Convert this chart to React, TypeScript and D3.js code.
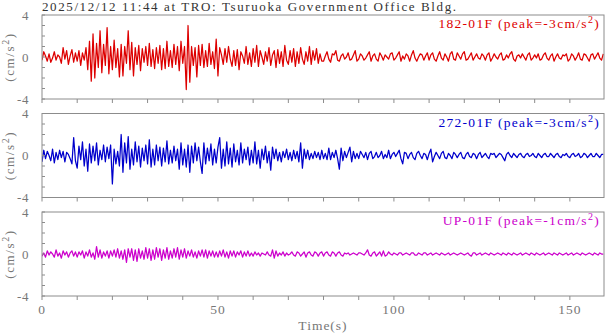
import React from 'react';
import * as d3 from 'd3';

// sample spacing of the traces (s)
const SAMPLE_DT = 0.5;

const title = '2025/12/12 11:44 at TRO: Tsuruoka Government Office Bldg.';
const channelNames = ['182-01F', '272-01F', 'UP-01F'];
const channelPeaks = [-3, -3, -1];
const channelColors = ['#dd0000', '#0000cc', '#cc00cc'];

const timeTicks = [0, 50, 100, 150];
const ampTicks = [-4, 0, 4];

// 182-01F, one row = 10 s
const ns = [
  -0.3, 0.5, 0.1, -0.4, 0.3, -0.5, -0.1, 0.5, -0.3, 0.2, 0.0, -0.6, 0.9, -0.2, 0.6, -0.7, 0.1, 0.7, -0.5, 0.4,
  -0.4, 0.6, -0.8, 0.4, -0.3, 0.9, -1.2, 1.5, -2.3, 2.2, -2.0, 1.3, -1.0, 2.5, -1.5, 1.2, -0.8, 2.8, -1.6, 1.0,
  -1.2, 1.6, -1.0, 0.8, -1.9, 1.2, -1.8, 1.0, -0.6, 2.5, -1.2, 1.4, -1.8, 0.9, -0.7, 1.1, -1.3, 0.8, -0.5, 1.0,
  -0.8, 1.3, -0.9, 0.7, -1.1, 0.9, -0.6, 1.1, -1.2, 0.8, -1.1, 1.5, -0.9, 0.6, -1.0, 1.2, -0.7, 1.0, -1.3, 1.5,
  -0.6, 1.0, -3.1, 3.0, -2.4, 1.0, -0.8, 0.9, -1.9, 1.1, -0.8, 1.2, -1.0, 0.6, -0.9, 1.3, -0.7, 0.5, -1.1, 1.7,
  -1.8, 0.9, 0.2, -0.7, 0.8, -0.5, 1.0, -0.2, -0.9, 0.6, -0.8, 0.7, -1.2, 0.5, 0.1, -0.6, 1.0, -0.7, 0.4, -0.9,
  0.8, -0.5, 1.1, -0.9, 0.6, 0.0, -0.7, 0.5, -0.4, 0.9, -0.8, 0.2, 0.6, -1.0, 0.7, -0.6, 0.5, -0.9, 1.1, -0.3,
  -0.7, 0.6, -0.5, 0.8, -0.9, 0.5, -0.6, 0.9, -0.2, -0.7, 0.5, -0.4, 1.0, -0.7, 0.6, -0.3, 0.8, -0.6, 0.3, -0.4,
  -0.4, 0.1, 0.5, -0.2, -0.5, 0.3, 0.2, 0.6, -0.3, -0.4, 0.1, 0.3, -0.2, 0.0, 0.4, -0.3, -0.2, 0.2, 0.6, -0.4,
  -0.2, 0.3, 0.1, -0.3, -0.1, 0.2, 0.5, -0.4, 0.1, 0.3, -0.2, -0.4, 0.4, 0.1, -0.3, 0.2, 0.0, -0.2, 0.3, 0.4,
  -0.3, -0.1, 0.2, 0.5, -0.4, 0.1, -0.2, 0.3, 0.1, -0.4, 0.2, 0.6, -0.1, -0.4, 0.0, 0.3, 0.2, -0.3, 0.1, 0.4,
  -0.3, 0.2, 0.4, -0.2, -0.4, 0.1, 0.5, -0.1, -0.3, 0.3, 0.0, -0.4, 0.3, 0.5, -0.2, -0.3, 0.4, 0.1, -0.2, 0.3,
  0.5, -0.3, -0.2, 0.1, 0.4, -0.3, 0.0, 0.3, -0.1, -0.2, 0.3, 0.1, -0.3, 0.2, 0.4, -0.4, -0.1, 0.3, 0.0, -0.2,
  0.2, 0.4, -0.3, -0.2, 0.2, -0.1, 0.3, 0.5, -0.2, -0.4, 0.1, 0.2, -0.1, 0.3, 0.0, -0.3, 0.2, 0.4, -0.3, -0.1,
  0.2, -0.1, 0.3, -0.3, -0.2, 0.2, 0.4, -0.1, -0.3, 0.1, 0.3, -0.4, 0.0, 0.3, -0.1, -0.2, 0.2, 0.1, 0.3, -0.4,
  -0.2, 0.3, 0.1, -0.3, 0.0, 0.4, -0.2, -0.3, 0.3, 0.2, -0.1, -0.4, 0.2, 0.3, -0.2, 0.1, 0.4, -0.1, -0.3, 0.3,
];

// 272-01F
const ew = [
  -0.6, 0.5, -0.3, 0.4, 0.0, -0.5, 0.6, -0.7, 0.3, -0.4, 0.5, -0.2, 0.4, -0.6, 0.3, 0.1, -0.3, -0.8, 1.7, -0.5,
  -1.2, 0.9, -0.4, 1.3, -1.0, 0.6, -1.5, 1.1, -0.7, 0.9, -0.5, 1.2, -0.9, 0.5, -0.4, 1.0, -0.6, 0.8, -0.3, 1.0,
  -2.7, 0.6, -0.8, 0.4, -1.0, 2.0, -1.6, 1.2, -0.7, 1.8, -1.3, 0.6, -0.9, 1.3, -0.6, 0.9, -1.1, 0.7, -0.5, 1.0,
  -0.8, 1.5, -1.1, 0.6, -0.9, 1.0, -0.5, 0.8, -1.0, 0.7, -0.6, 1.4, -0.8, 0.5, -0.7, 0.9, -0.5, 0.6, -1.3, 1.2,
  -0.9, 0.6, -1.1, 1.0, -1.6, 0.9, -0.7, 1.2, -0.5, 0.8, -0.6, -1.7, 1.2, -0.8, 0.7, -0.5, 1.1, -0.9, 0.6, -0.7,
  0.8, 1.7, -1.2, 0.6, -1.0, 1.3, -0.8, 0.7, -1.1, 1.1, -0.6, 0.5, -0.9, 1.2, -0.7, 0.6, -0.4, 0.8, -0.9, 0.5,
  -0.7, 1.3, -0.8, 0.5, -1.2, 0.6, -0.4, 0.9, -0.7, 0.4, -1.4, 0.8, -0.3, 0.6, -0.5, 0.3, -0.6, 0.4, -0.2, 0.6,
  -0.4, 0.3, -0.5, 0.5, -0.3, 0.4, -0.6, 1.2, -1.2, 0.6, -0.3, 0.5, -0.4, 0.2, -0.3, 0.4, -0.2, 0.3, -0.4, 0.5,
  -0.3, 0.2, -0.4, 0.7, -0.4, 0.3, -0.2, 0.5, -0.3, -1.3, 0.7, -0.5, 0.4, -0.2, 0.3, 0.8, -0.6, 0.4, -0.3, 0.2,
  -0.3, 0.4, 0.1, -0.2, 0.3, -0.4, 0.2, 0.4, -0.3, -0.1, 0.3, -0.2, 0.0, 0.4, -0.3, 0.1, -0.2, 0.5, -0.3, 0.1,
  0.3, -0.1, 0.2, 0.5, -0.3, -0.8, 0.3, 0.2, -0.3, 0.1, 0.3, -0.2, -0.4, 0.2, 0.4, 0.0, -0.3, 0.2, 0.1, -0.4,
  0.2, 0.6, -0.6, -0.1, 0.3, 0.0, -0.3, 0.2, 0.4, -0.2, -0.3, 0.2, 0.0, -0.3, 0.3, 0.1, -0.2, 0.1, 0.3, -0.2,
  -0.3, 0.1, 0.3, -0.1, -0.2, 0.2, 0.1, -0.3, 0.1, 0.3, -0.2, 0.0, 0.2, -0.1, -0.3, 0.2, 0.1, 0.2, -0.2, 0.0,
  0.2, 0.1, -0.2, -0.5, 0.1, 0.3, 0.0, -0.2, 0.2, 0.0, -0.2, 0.1, 0.2, -0.1, -0.2, 0.1, 0.2, -0.1, 0.0, 0.2,
  -0.1, -0.2, 0.2, 0.0, -0.2, 0.1, 0.2, -0.1, -0.1, 0.2, 0.0, -0.2, 0.1, 0.2, -0.1, -0.2, 0.1, 0.0, 0.2, -0.1,
  -0.2, 0.1, 0.2, -0.1, 0.0, 0.2, -0.2, -0.1, 0.2, 0.1, -0.2, 0.0, 0.2, -0.1, -0.1, 0.2, 0.0, -0.2, 0.1, 0.1,
];

// UP-01F
const ud = [
  -0.2, 0.1, -0.3, 0.3, -0.1, 0.2, 0.0, -0.3, 0.4, -0.2, 0.1, -0.4, 0.3, -0.1, 0.2, -0.3, 0.1, 0.3, -0.2, 0.2,
  -0.3, 0.2, -0.1, 0.3, -0.4, 0.2, -0.2, 0.4, -0.3, 0.1, -0.5, 0.7, -0.3, 0.4, -0.4, 0.2, -0.2, 0.3, -0.4, 0.3,
  -0.2, 0.4, -0.3, 0.5, -0.4, 0.3, -0.5, 0.4, -0.8, 0.5, -0.3, 0.5, -0.6, 0.4, -0.7, 0.5, -0.4, 0.3, -0.5, 0.6,
  -0.4, 0.5, -0.6, 0.4, -0.5, 0.6, -0.3, 0.5, -0.6, 0.4, -0.4, 0.6, -0.5, 0.3, -0.4, 0.5, -0.3, 0.6, -0.5, 0.4,
  -0.3, 0.5, -0.4, 0.3, -0.2, 0.4, -0.3, 0.2, -0.4, 0.3, -0.2, 0.4, -0.3, 0.4, -0.4, 0.3, -0.2, 0.3, -0.3, 0.2,
  -0.3, 0.3, -0.2, 0.4, -0.3, 0.2, -0.4, 0.3, -0.2, 0.3, -0.3, 0.2, -0.1, 0.3, -0.3, 0.2, -0.2, 0.3, -0.2, 0.1,
  -0.2, 0.2, -0.1, 0.1, -0.2, 0.1, 0.0, -0.1, 0.2, -0.1, -0.2, 0.4, -0.4, 0.3, -0.2, 0.1, -0.1, 0.2, -0.2, 0.1,
  -0.1, 0.0, 0.2, -0.1, -0.2, 0.2, 0.1, -0.2, 0.0, 0.2, -0.3, 0.1, 0.2, -0.1, -0.2, 0.2, 0.1, -0.2, 0.1, 0.2,
  -0.2, 0.1, 0.2, -0.1, -0.2, 0.2, 0.1, -0.2, 0.1, 0.2, -0.1, -0.2, 0.1, 0.0, 0.1, -0.1, 0.0, 0.1, 0.0, -0.1,
  0.1, 0.1, 0.0, -0.1, 0.1, 0.4, -0.1, -0.2, 0.1, 0.2, -0.2, 0.0, 0.2, -0.2, 0.3, -0.2, -0.1, 0.2, 0.0, -0.1,
  0.1, 0.0, -0.1, 0.1, 0.1, -0.1, 0.0, 0.1, 0.0, -0.1, 0.1, 0.1, -0.1, -0.1, 0.1, 0.0, -0.1, 0.1, 0.1, -0.1,
  0.0, 0.1, -0.1, 0.0, 0.1, 0.0, -0.1, 0.1, 0.0, -0.1, 0.0, 0.1, -0.1, 0.0, 0.1, 0.0, -0.1, 0.0, 0.1, 0.0,
  -0.1, 0.0, 0.1, -0.1, -0.2, 0.1, 0.1, -0.1, 0.0, 0.1, -0.1, 0.0, 0.1, 0.0, -0.1, 0.1, 0.0, -0.1, 0.0, 0.1,
  0.0, -0.1, 0.1, 0.0, -0.1, 0.1, 0.0, -0.1, 0.1, 0.0, -0.1, 0.0, 0.1, -0.1, 0.0, 0.1, 0.0, -0.1, 0.1, 0.0,
  -0.1, 0.1, 0.0, -0.1, 0.0, 0.1, -0.1, 0.0, 0.1, 0.0, -0.1, 0.1, 0.0, -0.1, 0.1, 0.0, -0.1, 0.0, 0.1, -0.1,
  0.0, 0.1, -0.1, 0.0, 0.1, 0.0, -0.1, 0.1, 0.0, -0.1, 0.0, 0.1, 0.0, -0.1, 0.1, 0.0, -0.1, 0.1, 0.0, 0.0,
];

const traces = [ns, ew, ud];

const W = 605;
const H = 334;
const left = 42;
const right = 604;
const panelTops = [15, 113.5, 212];
const panelH = 84;
const font = '"Liberation Serif", "DejaVu Serif", serif';
const frameColor = '#8c8c8c';
const labelColor = '#777';

const App = () => {
  const x = d3.scaleLinear().domain([0, 159.7]).range([left, right]);
  const xMinor = d3.range(0, 160, 10);
  const yMinor = d3.range(-4, 5, 1);

  return (
    <svg width={W} height={H} style={{ position: 'absolute', left: 0, top: 0, background: '#fff' }}>
      <rect width={W} height={H} fill="#fff" />
      <text x={left} y={10.5} fontFamily={font} fontSize={13} fill="#333"
        textLength={414} lengthAdjust="spacing">{title}</text>

      {traces.map((vals, k) => {
        const top = panelTops[k];
        const y = d3.scaleLinear().domain([-4, 4]).range([top + panelH, top]);
        const line = d3.line<number>()
          .x((_, i) => x(i * SAMPLE_DT))
          .y(d => y(d));
        const bottom = top + panelH;
        return (
          <g key={k}>
            <defs>
              <clipPath id={`clip${k}`}>
                <rect x={left} y={top} width={right - left} height={panelH} />
              </clipPath>
            </defs>
            <path d={line(vals) || ''} fill="none" stroke={channelColors[k]}
              strokeWidth={1.25} strokeLinejoin="round" clipPath={`url(#clip${k})`} />
            <rect x={left} y={top} width={right - left} height={panelH}
              fill="none" stroke={frameColor} strokeWidth={1} />
            {xMinor.map(t => (
              <line key={t} x1={x(t)} x2={x(t)} y1={bottom} y2={bottom + 4}
                stroke={frameColor} strokeWidth={1} />
            ))}
            {yMinor.map(v => (
              <line key={v} x1={left} x2={left + 3} y1={y(v)} y2={y(v)}
                stroke={frameColor} strokeWidth={1} />
            ))}
            {ampTicks.map(v => (
              <text key={v} x={29} y={y(v) + 4.5} textAnchor="end" fontFamily={font}
                fontSize={13} fill={labelColor} letterSpacing={0.6}>{v}</text>
            ))}
            <text transform={`translate(14,${top + panelH / 2}) rotate(-90)`} textAnchor="middle"
              fontFamily={font} fontSize={13} fill={labelColor} letterSpacing={1.6}>
              (cm/s<tspan dy={-5} fontSize={10}>2</tspan><tspan dy={5}>)</tspan>
            </text>
            <text x={600} y={top + 13} textAnchor="end" fontFamily={font} fontSize={13.5}
              fill={channelColors[k]} letterSpacing={1.3}>
              {channelNames[k]} (peak={channelPeaks[k]}cm/s<tspan dy={-5} fontSize={10}>2</tspan><tspan dy={5}>)</tspan>
            </text>
            {k === traces.length - 1 && timeTicks.map(t => (
              <text key={t} x={x(t)} y={314} textAnchor="middle" fontFamily={font}
                fontSize={13.5} fill={labelColor} letterSpacing={1}>{t}</text>
            ))}
          </g>
        );
      })}

      <text x={323} y={330} textAnchor="middle" fontFamily={font} fontSize={13.5}
        fill={labelColor} letterSpacing={1}>Time(s)</text>
    </svg>
  );
};

export default App;
